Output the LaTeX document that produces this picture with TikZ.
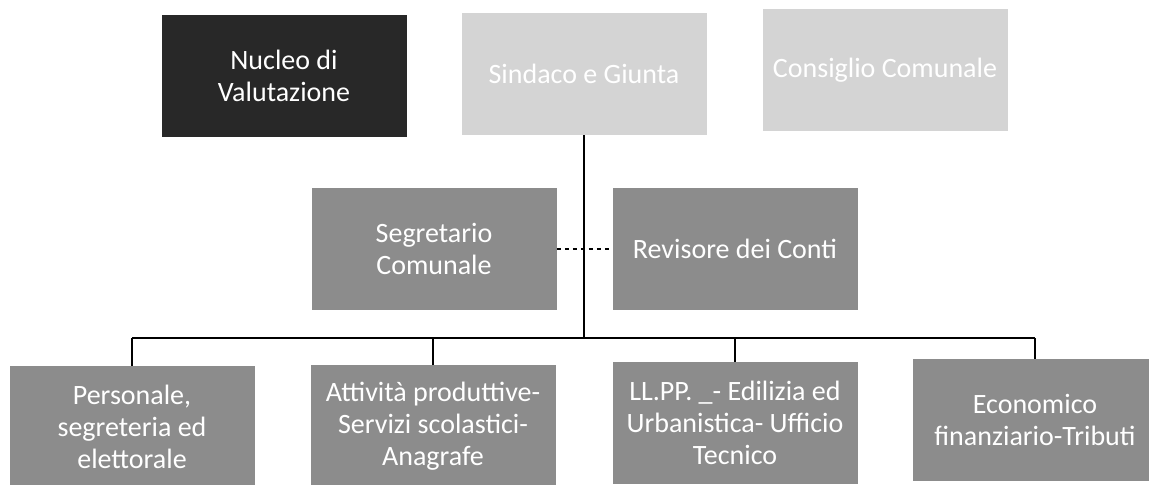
\documentclass[tikz,border=0pt]{standalone}
\usepackage{fontspec}
\setmainfont{Carlito}
\usetikzlibrary{positioning}
\definecolor{dunkel}{HTML}{282828}
\definecolor{hell}{HTML}{D4D4D4}
\definecolor{mittel}{HTML}{8C8C8C}
\begin{document}
\begin{tikzpicture}[x=0.75pt,y=-0.75pt,
  kasten/.style={minimum width=183.75pt,minimum height=91.5pt,inner sep=0pt,
    align=center,text=white,font=\fontsize{21}{24}\selectfont},
  linie/.style={line width=1pt,black}]
  \path[use as bounding box,clip] (0,0) rectangle (1149,485);
  % obere Reihe
  \node[kasten,fill=dunkel] (nucleo) at (284,76) {Nucleo di\\Valutazione};
  \node[kasten,fill=hell] (sindaco) at (584,74) {Sindaco e Giunta};
  \node[kasten,fill=hell] (consiglio) at (885,70) {Consiglio Comunale};
  % mittlere Reihe
  \node[kasten,fill=mittel] (segretario) at (434,249) {Segretario\\Comunale};
  \node[kasten,fill=mittel] (revisore) at (735,249) {Revisore dei Conti};
  % untere Reihe
  \node[kasten,fill=mittel] (personale) at (132,427) {Personale,\\segreteria ed\\elettorale};
  \node[kasten,fill=mittel] (attivita) at (433,426) {Attività produttive-\\Servizi scolastici-\\Anagrafe};
  \node[kasten,fill=mittel] (llpp) at (735,423) {LL.PP. \_- Edilizia ed\\Urbanistica- Ufficio\\Tecnico};
  \node[kasten,fill=mittel] (tributi) at (1035,420) {Economico\\finanziario-Tributi};
  % Verbindungen
  \coordinate (bus) at (584,338);
  \draw[linie] (sindaco.south) -- (bus);
  \draw[linie,dashed,line width=0.8pt] (segretario.east) -- (revisore.west);
  \draw[linie] (personale.north |- bus) -- (tributi.north |- bus);
  \foreach \n in {personale,attivita,llpp,tributi}
   \draw[linie] (\n.north |- bus) -- (\n.north);
\end{tikzpicture}
\end{document}
